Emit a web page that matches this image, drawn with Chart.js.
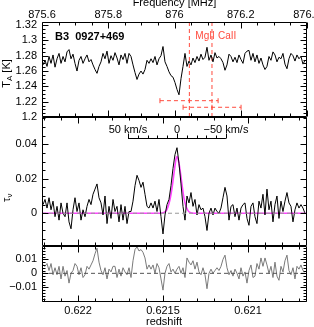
<!DOCTYPE html>
<html>
<head>
<meta charset="utf-8">
<script src="https://cdn.jsdelivr.net/npm/chart.js@4"></script>
<style>
  html, body { margin: 0; padding: 0; background: #fff; overflow: hidden; }
  #wrap { width: 330px; height: 327px; }
</style>
</head>
<body>
<div id="wrap"><canvas id="myChart" width="330" height="327"></canvas></div>
<script>
// channel grid: redshift of the first channel and the step between channels
const zFirst = 0.622206;
const zStep = -0.000011764;

// antenna temperature [K]
const taValues = [
  1.268,1.274,1.266,1.279,1.270,1.281,1.265,1.276,1.283,1.270,
  1.279,1.272,1.285,1.288,1.276,1.282,1.270,1.260,1.274,1.279,
  1.270,1.276,1.281,1.272,1.275,1.268,1.262,1.257,1.266,
  1.272,1.283,1.276,1.286,1.270,1.280,1.274,1.284,1.277,1.268,1.281,1.275,1.283,1.270,
  1.283,1.279,1.268,1.258,1.249,1.256,1.260,1.256,1.262,1.274,
  1.270,1.276,1.271,1.279,1.268,1.276,1.280,1.292,1.272,1.266,
  1.259,1.254,1.252,1.245,1.236,1.229,1.250,1.266,1.283,1.266,
  1.273,1.268,1.277,1.271,1.279,1.273,1.282,1.275,1.278,1.291,
  1.274,1.281,1.272,1.284,1.277,1.279,
  1.276,1.271,1.261,1.268,1.282,1.279,1.272,1.278,1.271,1.281,
  1.275,1.270,1.283,1.286,1.287,1.274,1.283,1.272,1.281,1.270,
  1.277,1.268,1.262,1.266,1.279,1.274,1.285,1.281,1.272,1.278,
  1.276,1.283,1.269,1.263,1.276,1.283,1.280,1.273,1.281,1.276,
  1.279,1.269,1.274
];

// optical depth
const tauValues = [
  0.005,0.008,0.003,0.009,0.002,0.007,-0.002,0.004,-0.004,0.006,
  0.000,-0.002,0.006,-0.005,-0.009,0.002,0.009,0.001,0.006,-0.004,
  0.002,-0.002,0.004,0.008,0.005,0.011,0.014,0.017,0.009,0.006,
  -0.001,0.010,-0.006,0.004,-0.003,0.008,0.001,0.004,-0.005,0.005,
  -0.004,0.004,-0.006,0.001,
  0.001,0.007,0.016,0.022,0.019,0.015,0.018,0.011,0.004,0.003,
  0.006,0.003,0.007,0.001,0.008,-0.002,-0.012,-0.001,0.005,0.008,
  0.016,0.026,0.034,0.038,0.029,0.017,0.004,-0.004,0.010,0.006,
  0.012,0.004,0.008,-0.001,0.005,0.002,0.003,-0.002,-0.010,0.000,
  0.003,-0.001,0.003,0.001,0.000,
  0.003,0.009,0.015,0.010,-0.004,0.004,0.005,-0.002,0.003,-0.004,
  0.003,0.005,0.006,-0.003,-0.007,0.004,0.006,-0.002,-0.006,0.007,
  0.003,0.011,-0.001,0.014,0.002,0.007,-0.005,0.005,0.010,-0.003,
  0.007,0.001,0.007,0.012,0.006,0.004,-0.005,0.002,0.006,0.003,
  0.005,0.003,0.000
];

// residuals after the gaussian fit
const residValues = [
  0.006,0.005,0.007,0.002,0.007,-0.001,0.004,-0.001,0.005,-0.004,
  0.005,-0.002,0.002,-0.007,0.000,0.002,0.007,0.005,-0.001,0.004,
  -0.003,-0.001,0.005,0.003,0.006,0.009,0.014,0.018,0.008,0.002,
  -0.001,0.004,-0.004,0.003,0.001,0.005,0.005,-0.003,0.003,-0.002,
  0.004,0.001,-0.001,0.004,-0.003,0.009,0.017,0.019,0.016,0.017,
  0.015,0.011,0.003,0.006,0.003,0.006,0.000,0.007,0.004,-0.004,
  -0.012,0.000,0.005,0.007,0.001,
  0.003,0.000,0.003,0.005,0.000,0.004,-0.003,0.011,0.008,0.006,
  0.009,0.003,0.008,0.001,-0.001,0.004,-0.001,-0.011,0.000,0.003,
  0.000,0.002,0.004,0.002,0.005,0.010,0.013,0.004,-0.001,0.002,
  -0.002,0.003,0.000,-0.004,0.004,-0.002,0.001,-0.007,0.002,0.006,
  -0.003,-0.002,0.007,0.003,0.011,0.005,0.011,0.006,0.000,0.005,
  -0.003,0.008,-0.002,-0.005,0.005,0.001,0.009,0.013,0.002,-0.001,
  0.004,-0.004,0.005,0.003,0.006,0.002,0.001
];

// gaussian fit
const fitRedshift = [0.62222,0.621518,0.621494,0.621482,0.621471,0.621459,0.621447,0.621435,
  0.621424,0.621418,0.621412,0.621400,0.621388,0.621377,0.621365,0.621353,0.621341,0.621318,0.62065];
const fitTau = [0,0,0.0005,0.0014,0.0037,0.0079,0.0147,0.0235,
  0.0313,0.0328,0.0316,0.0252,0.0163,0.0089,0.0040,0.0015,0.0004,0,0];

// expected MgII / CaII positions and their ranges
const lineNames = ['MgII', 'CaII'];
const lineRedshift = [0.621345, 0.621212];
const rangeLow = [0.621518, 0.621382];
const rangeHigh = [0.621176, 0.621041];
const rangeLevel = [1.2213, 1.2127];

// axes
const zMin = 0.620653, zMax = 0.622212;
const fMin = 875.6, fMax = 876.4;
const zTicks = [0.621, 0.6215, 0.622];
const freqTicks = [875.6, 875.8, 876.0, 876.2, 876.4];
const taTicks = [1.2, 1.22, 1.24, 1.26, 1.28, 1.3, 1.32];
const tauTicks = [0, 0.02, 0.04];
const residTicks = [-0.01, 0, 0.01];
const velTicks = [50, 0, -50];
const velZero = 0.621418;      // redshift at 0 km/s
const zPerKms = 0.00000576;    // redshift per km/s on the velocity bar

const red = '#ff4a3d';
const magenta = '#ff44ff';
const font = '"Liberation Sans", Helvetica, Arial, sans-serif';

const channels = taValues.map((_, i) => zFirst + i * zStep);
const pts = vals => vals.map((v, i) => ({x: channels[i], y: v}));
const fmt = v => String(+v.toFixed(4)).replace('-', '\u2212');
const useTicks = list => s => { s.ticks = list.map(v => ({value: v})); };

function hTicks(ctx, scale, major, minor, y, dir) {
  const lo = Math.min(scale.min, scale.max), hi = Math.max(scale.min, scale.max);
  const start = Math.ceil(lo / minor - 1e-6);
  for (let k = start; k * minor <= hi + 1e-9; k++) {
    const v = k * minor;
    const px = Math.round(scale.getPixelForValue(v)) + 0.5;
    const r = v / major;
    const len = Math.abs(r - Math.round(r)) < 1e-4 ? 6 : 3;
    ctx.moveTo(px, y);
    ctx.lineTo(px, y + dir * len);
  }
}

function vTicks(ctx, scale, major, minor, L, R) {
  const start = Math.ceil(scale.min / minor - 1e-6);
  for (let k = start; k * minor <= scale.max + 1e-9; k++) {
    const v = k * minor;
    const py = Math.round(scale.getPixelForValue(v)) + 0.5;
    const r = v / major;
    const len = Math.abs(r - Math.round(r)) < 1e-4 ? 6 : 3;
    ctx.moveTo(L, py); ctx.lineTo(L + len, py);
    ctx.moveTo(R, py); ctx.lineTo(R - len, py);
  }
}

function subText(ctx, parts, cx, cy) {
  let w = 0;
  parts.forEach(p => { ctx.font = p[1] + 'px ' + font; w += ctx.measureText(p[0]).width; });
  let x = cx - w / 2;
  parts.forEach(p => {
    ctx.font = p[1] + 'px ' + font;
    ctx.fillText(p[0], x, cy + p[2]);
    x += ctx.measureText(p[0]).width;
  });
}

const idlFrame = {
  id: 'idlFrame',
  afterDatasetsDraw(chart) {
    const {ctx, chartArea: a, scales: s} = chart;
    const L = Math.round(a.left) + 0.5, R = Math.round(a.right) - 0.5;
    ctx.save();
    ctx.strokeStyle = '#000';
    ctx.lineWidth = 1;
    ctx.beginPath();
    for (const p of [s.yTA, s.yTau, s.yRes]) {
      const T = Math.round(p.top) + 0.5, B = Math.round(p.bottom) - 0.5;
      ctx.rect(L, T, R - L, B - T);
    }
    const top = Math.round(s.yTA.top) + 0.5, topB = Math.round(s.yTA.bottom) - 0.5;
    hTicks(ctx, s.x2, 0.2, 0.05, top, 1);
    hTicks(ctx, s.x2, 0.2, 0.05, topB, -1);
    hTicks(ctx, s.x, 0.0005, 0.0001, Math.round(s.yTau.top) + 0.5, 1);
    hTicks(ctx, s.x, 0.0005, 0.0001, Math.round(s.yTau.bottom) - 0.5, -1);
    hTicks(ctx, s.x, 0.0005, 0.0001, Math.round(s.yRes.top) + 0.5, 1);
    hTicks(ctx, s.x, 0.0005, 0.0001, Math.round(s.yRes.bottom) - 0.5, -1);
    vTicks(ctx, s.yTA, 0.02, 0.005, L, R);
    vTicks(ctx, s.yTau, 0.02, 0.005, L, R);
    vTicks(ctx, s.yRes, 0.01, 0.002, L, R);
    ctx.stroke();

    // velocity bar
    const vy = Math.round(s.yTau.getPixelForValue(0.0437)) + 0.5;
    const vx = v => s.x.getPixelForValue(velZero + v * zPerKms);
    ctx.beginPath();
    ctx.moveTo(vx(50), vy); ctx.lineTo(vx(-50), vy);
    for (let v = -50; v <= 50; v += 10) {
      const px = Math.round(vx(v)) + 0.5;
      const len = v % 50 === 0 ? 5 : 3;
      ctx.moveTo(px, vy); ctx.lineTo(px, vy - len);
    }
    ctx.stroke();
    ctx.fillStyle = '#000';
    ctx.font = '11px ' + font;
    ctx.textAlign = 'center';
    ctx.textBaseline = 'middle';
    const vLabel = v => v === 0 ? '0' : (v > 0 ? v : '\u2212' + (-v)) + ' km/s';
    velTicks.forEach(v => ctx.fillText(vLabel(v), vx(v), vy - 9));

    // line labels
    ctx.fillStyle = red;
    ctx.textAlign = 'left';
    ctx.font = '10px ' + font;
    const ly = s.yTA.getPixelForValue(1.305);
    lineNames.forEach((n, i) => ctx.fillText(n, s.x.getPixelForValue(lineRedshift[i]) + 6, ly));

    // source name
    ctx.fillStyle = '#000';
    ctx.font = 'bold 11px ' + font;
    ctx.fillText('B3  0927+469', a.left + 13, s.yTA.getPixelForValue(1.305));

    // axis titles
    ctx.font = '11px ' + font;
    ctx.textAlign = 'center';
    ctx.fillText('Frequency [MHz]', (a.left + a.right) / 2, 3);
    ctx.fillText('redshift', 164, 322);
    ctx.textAlign = 'left';
    ctx.save();
    ctx.translate(7, (s.yTA.top + s.yTA.bottom) / 2 + 4);
    ctx.rotate(-Math.PI / 2);
    subText(ctx, [['T', 11, 0], ['A', 8, 3], [' [K]', 11, 0]], 0, 0);
    ctx.restore();
    ctx.save();
    ctx.translate(7, s.yTau.getPixelForValue(0.009));
    ctx.rotate(-Math.PI / 2);
    subText(ctx, [['\u03c4', 11, 0], ['\u03bd', 8, 3]], 0, 0);
    ctx.restore();
    ctx.restore();
  }
};

const noGrid = {display: false, drawTicks: false};
const hidden = {display: false};
const tickFont = {family: font, size: 11};

new Chart('myChart', {
  type: 'line',
  data: {
    datasets: [
      {data: pts(taValues), yAxisID: 'yTA', borderColor: '#000', borderWidth: 1},
      {data: [{x: rangeLow[0], y: rangeLevel[0]}, {x: lineRedshift[0], y: rangeLevel[0]}, {x: rangeHigh[0], y: rangeLevel[0]}],
       yAxisID: 'yTA', borderColor: red, borderWidth: 1, borderDash: [4, 3],
       pointRadius: 2.5, pointStyle: 'line', rotation: 90, pointBorderColor: red},
      {data: [{x: rangeLow[1], y: rangeLevel[1]}, {x: lineRedshift[1], y: rangeLevel[1]}, {x: rangeHigh[1], y: rangeLevel[1]}],
       yAxisID: 'yTA', borderColor: red, borderWidth: 1, borderDash: [4, 3],
       pointRadius: 2.5, pointStyle: 'line', rotation: 90, pointBorderColor: red},
      {data: [{x: lineRedshift[0], y: 1.2}, {x: lineRedshift[0], y: 1.33}],
       yAxisID: 'yTA', borderColor: red, borderWidth: 1, borderDash: [4, 3]},
      {data: [{x: lineRedshift[1], y: 1.2}, {x: lineRedshift[1], y: 1.33}],
       yAxisID: 'yTA', borderColor: red, borderWidth: 1, borderDash: [4, 3]},
      {data: [{x: zMax, y: 0}, {x: zMin, y: 0}], yAxisID: 'yTau',
       borderColor: '#999', borderWidth: 1, borderDash: [4, 3]},
      {data: pts(tauValues), yAxisID: 'yTau', borderColor: '#000', borderWidth: 1},
      {data: fitRedshift.map((z, i) => ({x: z, y: fitTau[i]})), yAxisID: 'yTau',
       borderColor: magenta, borderWidth: 1.6, cubicInterpolationMode: 'monotone'},
      {data: [{x: zMax, y: 0}, {x: zMin, y: 0}], yAxisID: 'yRes',
       borderColor: '#555', borderWidth: 1, borderDash: [4, 3]},
      {data: pts(residValues), yAxisID: 'yRes', borderColor: '#7a7a7a', borderWidth: 1}
    ]
  },
  options: {
    responsive: false,
    animation: false,
    events: [],
    layout: {padding: {left: 0, right: 23, top: 0, bottom: 0}},
    plugins: {legend: hidden, tooltip: {enabled: false}},
    elements: {point: {radius: 0}, line: {tension: 0}},
    scales: {
      x: {
        type: 'linear', position: 'bottom', reverse: true, min: zMin, max: zMax,
        grid: noGrid, border: hidden,
        afterBuildTicks: useTicks(zTicks),
        afterFit: s => { s.height = 25; },
        ticks: {color: '#000', font: tickFont, padding: 2, callback: fmt, maxRotation: 0, autoSkip: false}
      },
      x2: {
        type: 'linear', position: 'top', min: fMin, max: fMax,
        grid: noGrid, border: hidden,
        afterBuildTicks: useTicks(freqTicks),
        afterFit: s => { s.height = 22; },
        ticks: {color: '#000', font: tickFont, padding: 0, callback: fmt, maxRotation: 0, autoSkip: false}
      },
      yRes: {
        type: 'linear', position: 'left', stack: 'panels', stackWeight: 56.5, weight: 1,
        min: -0.0205, max: 0.0199, grid: noGrid, border: hidden,
        afterBuildTicks: useTicks(residTicks),
        afterFit: s => { s.width = 42; },
        ticks: {color: '#000', font: tickFont, padding: 5, callback: fmt, autoSkip: false}
      },
      yTau: {
        type: 'linear', position: 'left', stack: 'panels', stackWeight: 128.5, weight: 2,
        min: -0.0187, max: 0.0558, grid: noGrid, border: hidden,
        afterBuildTicks: useTicks(tauTicks),
        afterFit: s => { s.width = 42; },
        ticks: {color: '#000', font: tickFont, padding: 5, callback: fmt, autoSkip: false}
      },
      yTA: {
        type: 'linear', position: 'left', stack: 'panels', stackWeight: 95, weight: 3,
        min: 1.2, max: 1.324, grid: noGrid, border: hidden,
        afterBuildTicks: useTicks(taTicks),
        afterFit: s => { s.width = 42; },
        ticks: {color: '#000', font: tickFont, padding: 5, callback: fmt, autoSkip: false}
      }
    }
  },
  plugins: [idlFrame]
});
</script>
</body>
</html>
